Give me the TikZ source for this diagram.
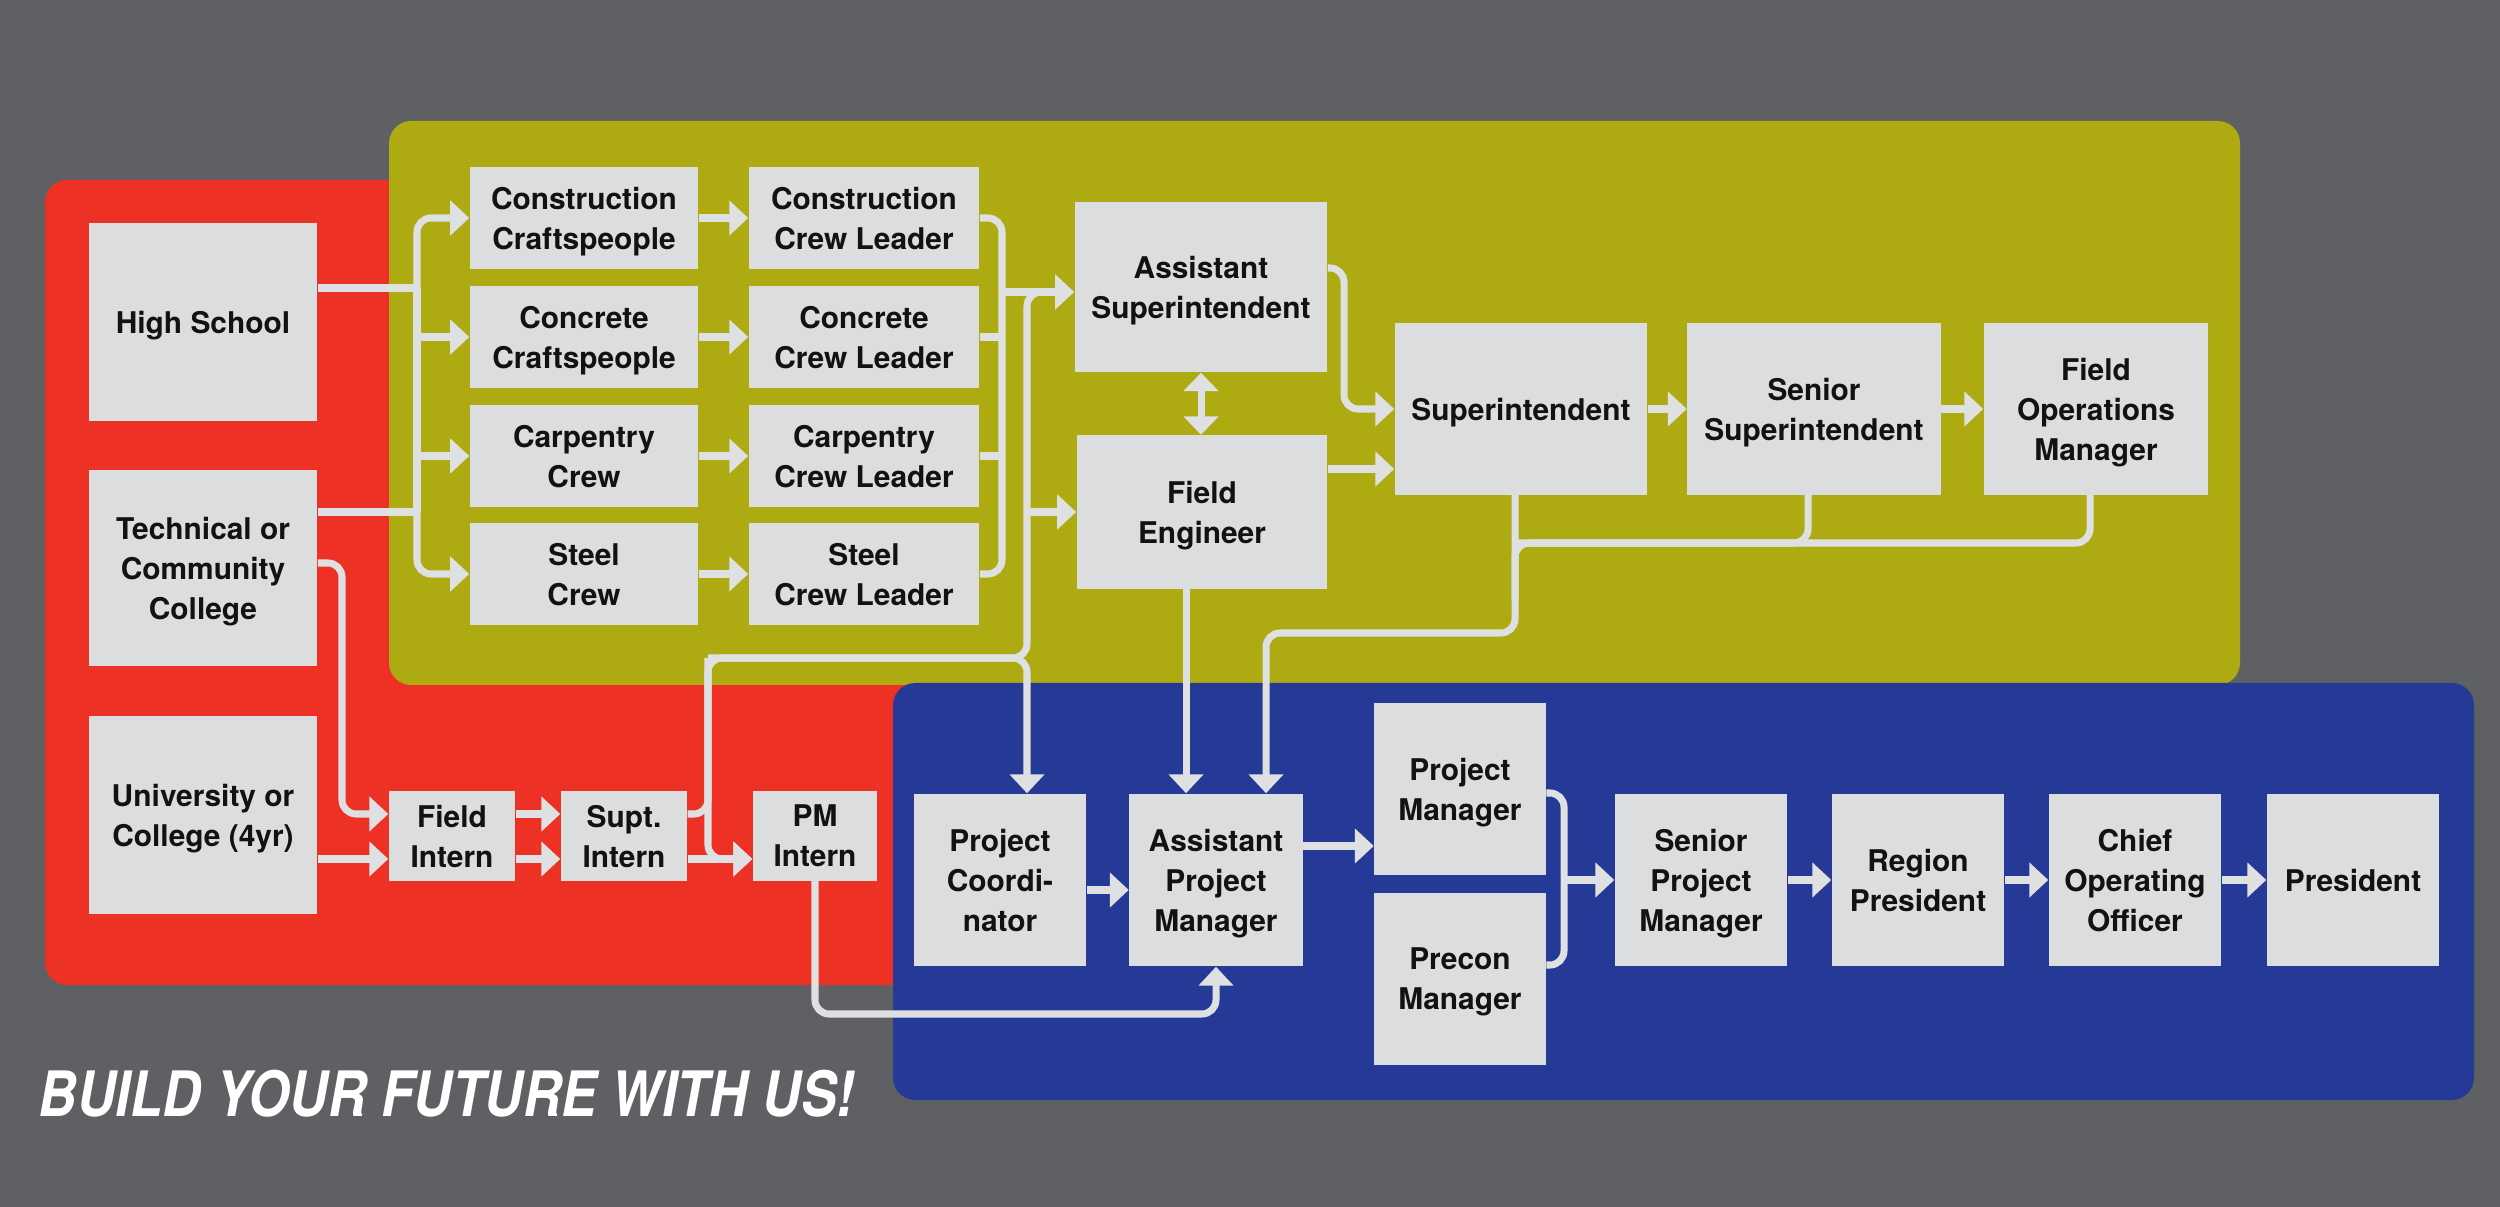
\documentclass[tikz,border=0pt]{standalone}
\usepackage{fontspec}
\setmainfont{TeX Gyre Heros}
\newfontfamily\titlefont[FakeStretch=0.85]{TeX Gyre Heros}
\usetikzlibrary{arrows.meta}
\definecolor{bgc}{RGB}{94,96,99}
\definecolor{redp}{RGB}{237,50,37}
\definecolor{yelp}{RGB}{174,170,17}
\definecolor{bluep}{RGB}{37,58,150}
\definecolor{boxc}{RGB}{220,221,223}
\definecolor{linec}{RGB}{223,224,226}
\definecolor{txtc}{RGB}{18,18,18}
\begin{document}
\begin{tikzpicture}[x=0.01cm,y=-0.01cm,
  box/.style={fill=boxc, draw=none, text=txtc, font=\bfseries\fontsize{8.5}{11.4}\selectfont, align=center, inner sep=0pt, text depth=0pt},
  conn/.style={draw=linec, line width=2pt, rounded corners=4pt},
  arr/.style={conn, -{Triangle[length=5.4pt,width=9.7pt]}},
  darr/.style={conn, {Triangle[length=5.2pt,width=9.7pt]}-{Triangle[length=5.2pt,width=9.7pt]}},
  panel/.style={draw=none, rounded corners=6.3pt}]
\fill[bgc] (0,0) rectangle (2500,1207);
\useasboundingbox (0,0) rectangle (2500,1207);
% panels
\fill[redp, panel] (45,180) rectangle (960,985);
\fill[yelp, panel] (389,121) rectangle (2240,685);
\fill[bluep, panel] (893,683) rectangle (2474,1100);
% education
\node[box, minimum width=2.28cm, minimum height=1.98cm] (hs) at (203,322) {High School};
\node[box, minimum width=2.28cm, minimum height=1.96cm] (tech) at (203,568) {Technical or\\Community\\College};
\node[box, minimum width=2.28cm, minimum height=1.98cm] (univ) at (203,815) {University or\\College (4yr)};
% crafts
\node[box, minimum width=2.28cm, minimum height=1.02cm] (cc) at (584,218) {Construction\\Craftspeople};
\node[box, minimum width=2.28cm, minimum height=1.02cm] (conc) at (584,337) {Concrete\\Craftspeople};
\node[box, minimum width=2.28cm, minimum height=1.02cm] (carp) at (584,456) {Carpentry\\Crew};
\node[box, minimum width=2.28cm, minimum height=1.02cm] (steel) at (584,574) {Steel\\Crew};
\node[box, minimum width=2.30cm, minimum height=1.02cm] (ccl) at (864,218) {Construction\\Crew Leader};
\node[box, minimum width=2.30cm, minimum height=1.02cm] (concl) at (864,337) {Concrete\\Crew Leader};
\node[box, minimum width=2.30cm, minimum height=1.02cm] (carpl) at (864,456) {Carpentry\\Crew Leader};
\node[box, minimum width=2.30cm, minimum height=1.02cm] (steell) at (864,574) {Steel\\Crew Leader};
% field
\node[box, minimum width=2.52cm, minimum height=1.70cm] (asup) at (1201,287) {Assistant\\Superintendent};
\node[box, minimum width=2.50cm, minimum height=1.53cm] (fe) at (1202,512) {Field\\Engineer};
\node[box, minimum width=2.52cm, minimum height=1.71cm] (sup) at (1521,409) {Superintendent};
\node[box, minimum width=2.53cm, minimum height=1.71cm] (ssup) at (1814,409) {Senior\\Superintendent};
\node[box, minimum width=2.24cm, minimum height=1.71cm] (fom) at (2096,409) {Field\\Operations\\Manager};
% interns
\node[box, minimum width=1.26cm, minimum height=0.89cm] (fint) at (452,836) {Field\\Intern};
\node[box, minimum width=1.26cm, minimum height=0.89cm] (sint) at (624,836) {Supt.\\Intern};
\node[box, minimum width=1.24cm, minimum height=0.89cm] (pmint) at (815,836) {PM\\Intern};
% project side
\node[box, minimum width=1.72cm, minimum height=1.72cm] (pc) at (1000,880) {Project\\Coordi-\\nator};
\node[box, minimum width=1.73cm, minimum height=1.72cm] (apm) at (1216,880) {Assistant\\Project\\Manager};
\node[box, minimum width=1.71cm, minimum height=1.72cm] (pm) at (1460,789) {Project\\Manager};
\node[box, minimum width=1.71cm, minimum height=1.72cm] (precon) at (1460,979) {Precon\\Manager};
\node[box, minimum width=1.72cm, minimum height=1.72cm] (spm) at (1701,880) {Senior\\Project\\Manager};
\node[box, minimum width=1.72cm, minimum height=1.72cm] (rp) at (1918,880) {Region\\President};
\node[box, minimum width=1.72cm, minimum height=1.72cm] (coo) at (2135,880) {Chief\\Operating\\Officer};
\node[box, minimum width=1.72cm, minimum height=1.72cm] (pres) at (2353,880) {President};
% title
\node[anchor=base west, text=white, inner sep=0pt, font=\titlefont\bfseries\itshape\fontsize{17.8}{20}\selectfont] (title) at (38,1116) {BUILD YOUR FUTURE WITH US!};
% helper coordinates
\coordinate (j1) at (417,288);
\coordinate (j2) at (417,512);
\coordinate (k1) at (1002,292);
\coordinate (k2) at (1027,658);
\coordinate (k3) at (708,658);
\coordinate (k4) at (1045,292);
\coordinate (iu) at (0,814);
\coordinate (il) at (0,859);
\coordinate (ty) at (0,563);
\coordinate (t4) at (342,0);
\coordinate (b1) at (0,1014);
\coordinate (pcy) at (0,890);
\coordinate (apmy) at (0,846);
\coordinate (pmy) at (0,793);
\coordinate (pcny) at (0,965);
\coordinate (m1) at (1564,880);
\coordinate (a1) at (1344,0);
\coordinate (asy) at (0,268);
\coordinate (fey) at (0,469);
\coordinate (f1) at (1186,0);
\coordinate (s1) at (1515,633);
\coordinate (s2) at (1266,0);
\coordinate (h1) at (1515,543);
\coordinate (h2) at (1515,600);
\coordinate (fx) at (2090,0);
\coordinate (sx) at (1808,0);
% education -> crafts
\draw[conn] (hs.east |- j1) -- (j1);
\draw[conn] (tech.east |- j2) -- (j2);
\draw[conn] (j1) -- (j2);
\draw[arr] (j1) |- (cc.west);
\draw[arr] (j2) |- (steel.west);
\draw[arr] (conc.west -| j1) -- (conc.west);
\draw[arr] (carp.west -| j1) -- (carp.west);
% crafts -> leaders
\draw[arr] (cc.east) -- (ccl.west);
\draw[arr] (conc.east) -- (concl.west);
\draw[arr] (carp.east) -- (carpl.west);
\draw[arr] (steel.east) -- (steell.west);
% leaders -> assistant superintendent
\draw[conn] (ccl.east) -| (k1) |- (steell.east);
\draw[conn] (concl.east) -- (concl.east -| k1);
\draw[conn] (carpl.east) -- (carpl.east -| k1);
\draw[arr] (k1) -- (asup.west |- k1);
% interns
\draw[arr] (tech.east |- ty) -| (t4 |- iu) -- (fint.west |- iu);
\draw[arr] (univ.east |- il) -- (fint.west |- il);
\draw[arr] (fint.east |- iu) -- (sint.west |- iu);
\draw[arr] (fint.east |- il) -- (sint.west |- il);
\draw[arr] (sint.east |- il) -- (pmint.west |- il);
\draw[arr] (k3) |- (pmint.west |- il);
\draw[conn] (sint.east |- iu) -| (k3) -- (k2) -- (k2 |- k4) -- (k4);
\draw[arr] (k3) -| (pc.north -| k2);
\draw[arr] (fe.west -| k2) -- (fe.west);
\draw[arr] (pmint.south) |- (apm.south |- b1) -- (apm.south);
% project chain
\draw[arr] (pc.east |- pcy) -- (apm.west |- pcy);
\draw[arr] (apm.east |- apmy) -- (pm.west |- apmy);
\draw[conn] (pm.east |- pmy) -| (m1) |- (precon.east |- pcny);
\draw[arr] (m1) -- (spm.west);
\draw[arr] (spm) -- (rp);
\draw[arr] (rp) -- (coo);
\draw[arr] (coo) -- (pres);
% field chain
\draw[arr] (asup.east |- asy) -| (a1 |- sup.west) -- (sup.west);
\draw[arr] (fe.east |- fey) -- (sup.west |- fey);
\draw[arr] (sup) -- (ssup);
\draw[arr] (ssup) -- (fom);
\draw[darr] (asup.south) -- (asup.south |- fe.north);
\draw[arr] (fe.south -| f1) -- (apm.north -| f1);
\draw[arr] (sup.south -| s1) -- (s1) -| (apm.north -| s2);
\draw[conn] (fom.south -| fx) |- (h1) -- (h2);
\draw[conn] (ssup.south -| sx) |- (h1);
\end{tikzpicture}
\end{document}
